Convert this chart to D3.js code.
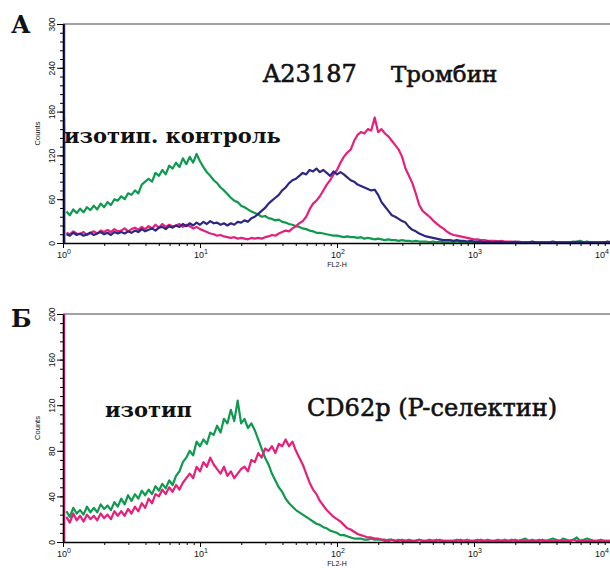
<!DOCTYPE html>
<html>
<head>
<meta charset="utf-8">
<script src="https://cdn.jsdelivr.net/npm/d3@7"></script>
<style>
  body { margin: 0; background: #fff; }
  svg text { font-family: "Liberation Sans", Arial, sans-serif; fill: #111; }
  .lbl { font-family: "DejaVu Serif", serif; }
</style>
</head>
<body>
<svg id="chart" width="610" height="568"></svg>
<script>
// FL2-H histograms, one value per 1/40 decade (channel 0 kept apart as spike)
var binStep = 1 / 40;

// panel A: isotype control (green), A23187 (blue), thrombin (pink)
var aGreen = [43,38,46,41, 47,42,49,45, 51,46,54,49, 56,52,60,58, 64,60,68,66, 72,68,80,84,
  88,84,96,92, 100,94,106,102, 110,104,116,108, 118,110,122,112, 104,97,92,86, 82,76,72,67,
  62,58,56,51, 49,46,43,41, 39,36,37,34, 33,31,32,29, 28,26,25,23, 22,20,19,17, 16,14,14,13,
  12,11,10,10, 9,8,9,8, 8,7,8,6, 7,6,5,6, 5,4,5,4, 4,3,4,3, 3,2,3,2, 2,2,1,2, 1,2,1,1,
  1,1,2,1, 1,1,1,1, 1,0,1,1, 1,1,0,1, 1,0,1,1, 0,1,1,0, 1,1,0,1, 0,1,1,1, 1,0,1,1,
  2,1,3,1, 2,1,1,0, 1,1,0,1,1];
var aBlue = [12,10,14,11, 13,10,12,14, 11,13,15,12, 14,11,15,13, 15,13,16,14, 17,15,19,16,
  18,20,17,21, 22,19,23,21, 24,22,26,23, 27,24,28,25, 29,26,30,27, 28,25,27,24, 27,25,29,28,
  31,29,34,36, 40,44,48,54, 58,62,66,72, 76,82,86,88, 92,96,94,100, 98,102,97,100, 96,92,98,94,
  97,94,90,86, 84,80,78,76, 74,72,73,66, 56,50,44,38, 36,33,30,28, 22,18,16,13, 11,9,8,7,
  6,5,4,4, 4,3,4,3, 3,2,3,2, 2,2,1,2, 1,1,2,1, 1,1,1,2, 1,1,1,1, 2,1,1,1, 1,1,2,1,
  1,1,1,1, 1,2,1,1, 1,1,1,1, 1,1,2,1, 1];
var aPink = [14,12,16,13, 12,15,11,14, 16,13,17,15, 18,15,19,16, 17,20,16,19, 21,18,22,19,
  23,20,25,21, 26,22,25,23, 24,26,22,25, 23,20,22,19, 17,15,13,12, 10,11,9,8, 7,8,6,7,
  6,5,7,6, 7,6,8,9, 11,10,13,15, 17,16,20,23, 27,30,36,46, 54,58,64,72, 80,86,94,100,
  110,118,124,128, 140,148,152,150, 156,154,172,152, 156,150,146,140, 134,128,118,102,
  92,82,68,52, 44,40,36,31, 27,23,20,16, 13,11,10,9, 8,7,6,5, 5,4,4,3, 3,3,2,3, 2,2,2,1,
  2,1,1,1, 1,1,1,1, 1,1,1,1, 1,1,1,1, 1,1,1,1, 1,1,1,1, 1,1,1,1, 1];
var aSpike = [172, 160, 330]; // channel 0: green, pink, blue

// panel B: isotype (green), CD62p (pink)
var bGreen = [27,22,30,25, 28,24,31,26, 30,26,33,29, 32,28,35,31, 38,33,41,36, 42,38,45,41,
  46,42,49,45, 51,47,54,50, 58,62,70,74, 80,76,88,84, 90,86,96,94, 102,96,108,104,
  116,106,124,104, 108,100,104,98, 90,82,74,68, 60,54,48,44, 38,34,31,28, 26,24,22,20,
  18,16,15,13, 12,10,9,8, 6,6,5,4, 3,3,3,2, 2,3,2,2,
  2,1,2,2, 1,2,1,1, 2,1,1,2, 1,1,2,1, 1,2,1,1, 1,1,2,1, 1,2,1,1, 2,1,1,2, 1,1,2,1,
  2,1,1,2, 1,2,3,1, 2,1,2,1, 1,2,3,2, 1,3,2,1, 2,4,1,2, 3,2,1,1, 2,1,1,1, 1];
var bPink = [22,17,25,19, 23,18,24,20, 23,19,25,21, 24,20,27,23, 27,23,29,25, 31,27,34,30,
  38,34,42,40, 46,42,48,44, 50,46,52,56, 60,56,66,62, 70,66,74,68, 64,60,66,58, 62,56,60,64,
  66,62,72,70, 78,74,82,80, 84,78,86,84, 90,84,88,80, 74,68,60,52, 46,42,36,32, 28,25,22,20,
  18,15,12,11, 9,7,6,5, 4,4,3,3,
  2,2,1,2, 1,1,2,1, 1,1,1,2, 1,1,1,1, 2,1,1,1, 1,1,1,2, 1,1,1,1, 1,2,1,1, 1,1,1,1,
  1,1,2,1, 1,1,1,1, 1,1,1,2, 1,1,1,1, 1,1,1,1, 2,1,1,1, 1,1,1,1, 1,1,1,1, 1];
var bSpike = [115, 330]; // channel 0: green, pink

var xDecades = [1, 10, 100, 1000, 10000];
var aTicks = [0, 60, 120, 180, 240, 300];
var bTicks = [0, 40, 80, 120, 160, 200];

var GREEN = "#0e9a4e", BLUE = "#2b2784", PINK = "#e5207b";

var svg = d3.select("#chart");
var x = d3.scaleLog().domain([1, 1e4]).range([63, 611]);

function drawPanel(id, top, bottom, majors, minorStep, series) {
  var y = d3.scaleLinear().domain([0, majors[majors.length - 1]]).range([bottom, top]);
  var g = svg.append("g");

  g.append("clipPath").attr("id", "clip" + id)
    .append("rect").attr("x", 63).attr("y", top).attr("width", 548).attr("height", bottom - top);

  // frame top
  g.append("line").attr("x1", 63).attr("x2", 611).attr("y1", top).attr("y2", top)
    .attr("stroke", "#444").attr("stroke-width", 1);

  var plot = g.append("g").attr("clip-path", "url(#clip" + id + ")");
  var line = d3.line()
    .x(function (d, i) { return x(Math.pow(10, (i + 1) * binStep)); })
    .y(function (d) { return y(d); });

  series.forEach(function (s) {
    plot.append("path").datum(s.values)
      .attr("d", line).attr("fill", "none")
      .attr("stroke", s.color).attr("stroke-width", 2.2).attr("stroke-linejoin", "round");
  });
  series.forEach(function (s) {
    plot.append("line")
      .attr("x1", x(1) + 1).attr("x2", x(1) + 1)
      .attr("y1", y(0)).attr("y2", y(s.spike))
      .attr("stroke", s.color).attr("stroke-width", 2.4);
  });

  // y axis
  var minors = d3.range(0, majors[majors.length - 1] + 0.1, minorStep);
  g.append("g").attr("transform", "translate(63,0)")
    .call(d3.axisLeft(y).tickValues(minors).tickSize(3).tickFormat(""))
    .call(function (a) { a.select(".domain").remove(); });
  var ya = g.append("g").attr("transform", "translate(63,0)")
    .call(d3.axisLeft(y).tickValues(majors).tickSize(6).tickSizeOuter(0));
  ya.select(".domain").attr("stroke-width", 1.6);
  ya.selectAll("text")
    .attr("transform", "rotate(-90)")
    .attr("x", 0).attr("y", -8).attr("dy", 0)
    .style("text-anchor", "middle").style("font-size", "8.5px");

  g.append("text")
    .attr("transform", "translate(40," + ((top + bottom) / 2) + ") rotate(-90)")
    .attr("text-anchor", "middle").style("font-size", "7.5px").text("Counts");

  // x axis
  var xMinor = [];
  xDecades.slice(0, 4).forEach(function (d) {
    for (var k = 2; k < 10; k++) xMinor.push(d * k);
  });
  g.append("g").attr("transform", "translate(0," + bottom + ")")
    .call(d3.axisBottom(x).tickValues(xMinor).tickSize(3).tickFormat(""))
    .call(function (a) { a.select(".domain").remove(); });
  var xa = g.append("g").attr("transform", "translate(0," + bottom + ")")
    .call(d3.axisBottom(x).tickValues(xDecades).tickSize(5).tickSizeOuter(0).tickFormat(""));
  xa.select(".domain").attr("stroke-width", 1.6);

  xDecades.forEach(function (d, i) {
    var last = i === xDecades.length - 1;
    var t = g.append("text").attr("x", last ? 609 : x(d) + 1).attr("y", bottom + 15)
      .attr("text-anchor", last ? "end" : "middle").style("font-size", "9px");
    t.append("tspan").text("10");
    t.append("tspan").attr("dy", -4).style("font-size", "7px").text(i);
  });
  g.append("text").attr("x", x(100)).attr("y", bottom + 24)
    .attr("text-anchor", "middle").style("font-size", "7px").text("FL2-H");

  return g;
}

drawPanel("A", 24, 243, aTicks, 12, [
  { values: aGreen, color: GREEN, spike: aSpike[0] },
  { values: aPink, color: PINK, spike: aSpike[1] },
  { values: aBlue, color: BLUE, spike: aSpike[2] }
]);
drawPanel("B", 314, 542, bTicks, 8, [
  { values: bGreen, color: GREEN, spike: bSpike[0] },
  { values: bPink, color: PINK, spike: bSpike[1] }
]);

// annotations
function label(txt, px, py, size, weight, heavy) {
  svg.append("text").attr("class", "lbl").attr("x", px).attr("y", py)
    .style("font-size", size + "px").style("font-weight", weight)
    .attr("stroke", heavy ? "#111" : "none").attr("stroke-width", heavy ? 0.6 : 0)
    .text(txt);
}
label("А", 11, 33, 24, "bold");
label("Б", 11, 327, 24, "bold");
label("изотип. контроль", 64, 143, 21, "bold");
label("A23187", 263, 82, 24, "normal", true);
label("Тромбин", 391, 82, 23, "normal", true);
label("изотип", 105, 417, 21, "bold");
label("CD62p (P-селектин)", 307, 416, 24, "normal", true);
</script>
</body>
</html>
